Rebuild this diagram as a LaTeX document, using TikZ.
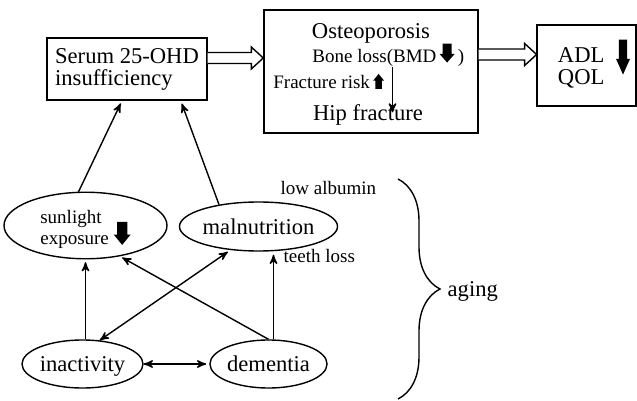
\documentclass[tikz,border=0pt]{standalone}
\usepackage{fontspec}
\setmainfont{Liberation Serif}
\usepackage{tikz}
\usetikzlibrary{arrows,shapes.geometric,decorations.pathreplacing}
% solid block arrows used inside the texts: width, height, baseline
\newcommand*\blkdown[3]{\tikz[x=#1pt,y=#2pt,baseline={(0,#3)}]{
            \fill (-.3,1) -- (.3,1) -- (.3,.45) -- (.5,.45) -- (0,0) -- (-.5,.45) -- (-.3,.45) -- cycle;}}
\newcommand*\blkup[3]{\tikz[x=#1pt,y=#2pt,baseline={(0,#3)}]{
            \fill (-.3,0) -- (.3,0) -- (.3,.55) -- (.5,.55) -- (0,1) -- (-.5,.55) -- (-.3,.55) -- cycle;}}
% hollow arrow from #1 to #2
\newcommand*\hollowto[2]{\draw[fill=white] ([yshift=2.75pt]#1) -- ([shift={(-6pt,2.75pt)}]#2)
            -- ([shift={(-6pt,5.5pt)}]#2) -- (#2) -- ([shift={(-6pt,-5.5pt)}]#2)
            -- ([shift={(-6pt,-2.75pt)}]#2) -- ([yshift=-2.75pt]#1);}

\begin{document}
\begin{tikzpicture}[>=stealth',x=0.5pt,y=-0.5pt,line width=0.7pt,
					every edge/.append style={shorten >=1.5pt},
					box/.style={shape=rectangle,draw,inner sep=2pt},
					oval/.style={shape=ellipse,draw,inner sep=0pt},
					word/.style={inner sep=0pt},
					bigtext/.style={font=\fontsize{11.3}{11}\selectfont},
					smalltext/.style={font=\fontsize{9.5}{10.5}\selectfont}]
					\useasboundingbox (0,0) rectangle (637,401);
					
					\node (serum) [box,bigtext,align=left,minimum width=80pt,minimum height=31pt] at (127,69) {
						Serum 25-OHD\\insufficiency
					};
					\node (osteo) [box,minimum width=107pt,minimum height=61.5pt] at (371,71.5) {};
					\node (osteotitle) [word,bigtext,anchor=base] at (371,38.5) {Osteoporosis};
					\node (boneloss) [word,smalltext,anchor=base west] at (312,63) {Bone loss(BMD\,\blkdown{7.5}{9.5}{0.47}\,)};
					\node (fracrisk) [word,smalltext,anchor=base west] at (273,89) {Fracture risk\,\blkup{5.5}{7.5}{0.07}};
					\node (hipfrac) [word,bigtext,anchor=base] at (368,120) {Hip fracture};
					\node (adl) [box,bigtext,minimum width=49.5pt,minimum height=40.5pt] at (586.5,65.5) {
						\hspace*{7.5pt}\begin{tabular}{@{}l@{}}ADL\\QOL\end{tabular}\hspace{5.8pt}\blkdown{7}{17.5}{0.34}
					};
					
					\node (sun) [oval,smalltext,align=left,minimum width=81.5pt,minimum height=32.5pt] at (85.5,225.5) {
						\rule{0pt}{11pt}sunlight\\exposure \smash{\blkdown{8.5}{11.5}{0.087}}
					};
					\node (malnut) [oval,bigtext,minimum width=77pt,minimum height=24.5pt] at (258.5,226.5) {malnutrition};
					\node (inact) [oval,bigtext,text depth=0pt,minimum width=60.5pt,minimum height=24pt] at (82.5,364) {inactivity};
					\node (dement) [oval,bigtext,minimum width=56.5pt,minimum height=24pt] at (268.5,364) {dementia};
					\node (albumin) [word,smalltext,anchor=base west] at (280,194) {low albumin};
					\node (teeth) [word,smalltext,anchor=base west] at (283,262) {teeth loss};
					\node (aging) [word,bigtext,anchor=base west] at (447,296) {aging};
					
					% hollow arrows between the boxes
					\coordinate (s1) at ([yshift=5.5pt]serum.east);
					\coordinate (s2) at (s1 -| osteo.west);
					\coordinate (o1) at ([yshift=8.5pt]osteo.east);
					\coordinate (o2) at (o1 -| adl.west);
					\hollowto{s1}{s2}
					\hollowto{o1}{o2}
					
					\coordinate (risktop) at ([xshift=4pt]fracrisk.east |- boneloss.south);
					\coordinate (riskbot) at ([xshift=4pt]fracrisk.east |- hipfrac.mid);
					\path[->](risktop) edge (riskbot);
					
					\path[->]([xshift=-3.5pt]sun.north) edge ([xshift=-2.5pt]serum.south);
					\path[->](malnut.151) edge ([xshift=-13.5pt]serum.south east);
					\path[->](sun.south |- inact.north) edge (sun.south);
					\path[->](dement.north) edge (sun.-42);
					\path[<->](inact.54) edge (malnut.-140);
					\path[->]([xshift=2.5pt]dement.north) edge ([xshift=2.5pt]dement.north |- malnut.south);
					\path[<->](inact) edge (dement);
					
					% brace for aging
					\coordinate (bracetop) at (398,179);
					\coordinate (bracebot) at (398,399);
					\draw[decorate,decoration={brace,amplitude=21pt}] (bracetop) -- (bracebot);
				\end{tikzpicture}
\end{document}
